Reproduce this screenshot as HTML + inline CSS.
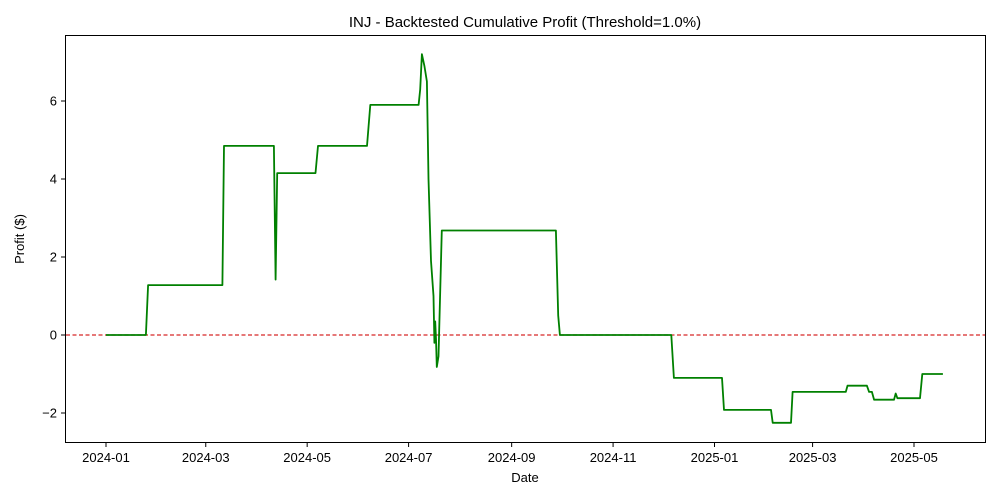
<!DOCTYPE html>
<html><head><meta charset="utf-8"><style>
body{margin:0;background:#fff;}
svg{display:block;font-family:"Liberation Sans","DejaVu Sans",sans-serif;}
</style></head><body>
<svg id="chart" width="1000" height="500">
<text x="525" y="27" text-anchor="middle" font-size="15">INJ - Backtested Cumulative Profit (Threshold=1.0%)</text>
<text x="525" y="482" text-anchor="middle" font-size="13">Date</text>
<text x="24" y="239" text-anchor="middle" font-size="13" transform="rotate(-90 24 239)">Profit ($)</text>
<g id="ticks"></g>
<line id="zero" stroke="#d62728" stroke-width="1.2" stroke-dasharray="4,2.5"/>
<path id="line" fill="none" stroke="#008000" stroke-width="1.8" stroke-linejoin="round"/>
<rect x="65.5" y="35.5" width="920" height="407" fill="none" stroke="#000" stroke-width="1"/>
</svg>
<script>
// days since 2024-01-01
const days=[0,24,25.3,70,71,101,102,103,126,127.5,157,159,188,189,190,191.5,193,194,195.5,197,197.5,198,198.5,199,200,202,270.6,272,273,340,341.6,370.5,371.7,400,401,412,413,445,446,457.7,459,460.7,462,474,475,476,489.6,491,503.4];
const profit=[0,0,1.28,1.28,4.85,4.85,1.42,4.15,4.15,4.85,4.85,5.9,5.9,6.3,7.2,6.9,6.5,4.0,1.9,1.0,-0.2,0.35,-0.1,-0.82,-0.55,2.68,2.68,0.5,0,0,-1.1,-1.1,-1.92,-1.92,-2.25,-2.25,-1.46,-1.46,-1.3,-1.3,-1.46,-1.46,-1.66,-1.66,-1.5,-1.62,-1.62,-1.0,-1.0];
const xTickLabels=["2024-01","2024-03","2024-05","2024-07","2024-09","2024-11","2025-01","2025-03","2025-05"];
const xTickDays=[0,60,121,182,244,305,366,425,486];
const yTicks=[-2,0,2,4,6];
const X=d=>106+d*(808/486);
const Y=v=>335-v*39;
const ns="http://www.w3.org/2000/svg";
const g=document.getElementById('ticks');
function mk(t,a){const e=document.createElementNS(ns,t);for(const k in a)e.setAttribute(k,a[k]);return e;}
xTickLabels.forEach((lab,i)=>{const x=X(xTickDays[i]);
 const l=mk('line',{x1:x,x2:x,y1:442.5,y2:447,stroke:'#000'});
 
 g.appendChild(l);
 const t=mk('text',{x:x,y:462,'text-anchor':'middle','font-size':13});t.textContent=lab;
 
 g.appendChild(t);});
yTicks.forEach(v=>{const y=Y(v);
 const l=mk('line',{x1:61,x2:65.5,y1:y,y2:y,stroke:'#000'});
 
 g.appendChild(l);
 const t=mk('text',{x:57,y:y+4.5,'text-anchor':'end','font-size':13});t.textContent=v<0?'\u2212'+(-v):v;
 
 g.appendChild(t);});
const z=document.getElementById('zero');
z.setAttribute('x1',66);z.setAttribute('x2',985);z.setAttribute('y1',Y(0));z.setAttribute('y2',Y(0));
document.getElementById('line').setAttribute('d',days.map((d,i)=>(i?'L':'M')+X(d).toFixed(1)+','+Y(profit[i]).toFixed(1)).join(''));
</script>
</body></html>
